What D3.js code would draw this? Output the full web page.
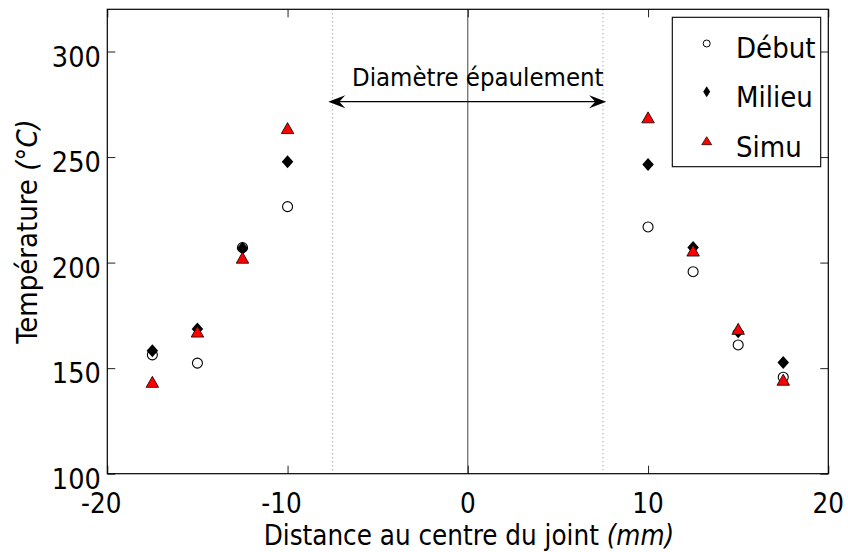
<!DOCTYPE html><html><head><meta charset="utf-8"><script src="https://cdn.jsdelivr.net/npm/d3@7"></script>
<style>body{margin:0;background:#fff}text{font-family:"DejaVu Sans Condensed","DejaVu Sans",sans-serif;fill:#000}</style></head><body><svg width="848" height="552"></svg><script>
const positions=[-17.5,-15,-12.5,-10,10,12.5,15,17.5];
const debut=[156.3,152.4,207.1,226.5,216.9,195.7,161.0,145.7];
const milieu=[158.3,168.5,206.8,247.8,246.5,207.1,167.3,152.7];
const simu=[143.0,166.8,201.8,263.2,268.3,205.2,168.1,144.0];
const xTicks=[-20,-10,0,10,20];
const yTicks=[100,150,200,250,300];
const shoulder=[-7.5,7.5];
const seriesNames=["Début","Milieu","Simu"];

const svg=d3.select("svg");
const L=107.3,R=828.3,T=9.3,B=473.7;
const x=d3.scaleLinear().domain([-20,20]).range([L,R]);
const y=d3.scaleLinear().domain([100,320]).range([B,T]);

// reference lines
svg.selectAll(".dot").data(shoulder).enter().append("line")
 .attr("x1",d=>x(d)).attr("x2",d=>x(d)).attr("y1",T).attr("y2",B)
 .attr("stroke","#888").attr("stroke-width",1).attr("stroke-dasharray","1,3");
svg.append("line").attr("x1",x(0)).attr("x2",x(0)).attr("y1",T).attr("y2",B).attr("stroke","#444").attr("stroke-width",1);

// axes with inward ticks
const tl=8;
const gxb=svg.append("g").attr("transform",`translate(0,${B})`).call(d3.axisBottom(x).tickValues(xTicks).tickSize(-tl).tickFormat(""));
const gxt=svg.append("g").attr("transform",`translate(0,${T})`).call(d3.axisTop(x).tickValues(xTicks).tickSize(-tl).tickFormat(""));
const gyl=svg.append("g").attr("transform",`translate(${L},0)`).call(d3.axisLeft(y).tickValues(yTicks).tickSize(-tl).tickFormat(""));
const gyr=svg.append("g").attr("transform",`translate(${R},0)`).call(d3.axisRight(y).tickValues(yTicks).tickSize(-tl).tickFormat(""));
[gxb,gxt,gyl,gyr].forEach(g=>{g.select(".domain").remove();g.selectAll("line").attr("stroke","#222");});
svg.append("rect").attr("x",L).attr("y",T).attr("width",R-L).attr("height",B-T).attr("fill","none").attr("stroke","#000").attr("stroke-width",1.2);

// tick labels
svg.selectAll(".xl").data(xTicks).enter().append("text")
 .attr("x",d=>x(d)+(d<0?-6:0)).attr("y",B+39).attr("text-anchor","middle").style("font-size","27.5px").text(d=>d);
svg.selectAll(".yl").data(yTicks).enter().append("text")
 .attr("x",L-6.5).attr("y",d=>y(d)+15.3).attr("text-anchor","end").style("font-size","28.5px").text(d=>d);

// axis titles
const xt=svg.append("text").attr("x",469).attr("y",545).attr("text-anchor","middle").style("font-size","27.5px");
xt.append("tspan").text("Distance au centre du joint ");
xt.append("tspan").style("font-style","italic").text("(mm)");
const yt=svg.append("text").attr("transform","translate(37,231.5) rotate(-90)").attr("text-anchor","middle").style("font-size","29px");
yt.append("tspan").text("Température ");
yt.append("tspan").style("font-style","italic").text("(°C)");

// annotation arrow
const ay=101.7, ax1=x(-7.74), ax2=x(7.68);
svg.append("line").attr("x1",ax1+6).attr("x2",ax2-6).attr("y1",ay).attr("y2",ay).attr("stroke","#000").attr("stroke-width",1.3);
function head(tipX,dir){
  const p=d3.path();
  p.moveTo(tipX,ay);
  p.lineTo(tipX+dir*17,ay-6.5);
  p.lineTo(tipX+dir*11,ay);
  p.lineTo(tipX+dir*17,ay+6.5);
  p.closePath();
  svg.append("path").attr("d",p.toString()).attr("fill","#000");
}
head(ax1,1);head(ax2,-1);
svg.append("text").attr("x",352).attr("y",86).style("font-size","25.5px").text("Diamètre épaulement");

// markers
function diamond(w,h){return `M0,${-h/2}L${w/2},0L0,${h/2}L${-w/2},0Z`;}
function tri(w,h){return `M0,${-h*0.6}L${w/2},${h*0.4}L${-w/2},${h*0.4}Z`;}
const g=svg.append("g");
g.selectAll(".c").data(positions).enter().append("circle")
 .attr("cx",d=>x(d)).attr("cy",(d,i)=>y(debut[i])).attr("r",5)
 .attr("fill","none").attr("stroke","#000").attr("stroke-width",1.1);
g.selectAll(".d").data(positions).enter().append("path")
 .attr("transform",(d,i)=>`translate(${x(d)},${y(milieu[i])})`).attr("d",diamond(11.5,13)).attr("fill","#000");
g.selectAll(".t").data(positions).enter().append("path")
 .attr("transform",(d,i)=>`translate(${x(d)},${y(simu[i])})`).attr("d",tri(12.5,11))
 .attr("fill","#ff0000").attr("stroke","#000").attr("stroke-width",0.8);

// legend
const lg=svg.append("g");
lg.append("rect").attr("x",672.3).attr("y",17.3).attr("width",148.4).attr("height",149.4).attr("fill","#fff").attr("stroke","#000").attr("stroke-width",1.1);
const rowY=[43.5,91.7,141.5];
seriesNames.forEach((n,i)=>{
  const cy=rowY[i];
  if(i===0) lg.append("circle").attr("cx",706.7).attr("cy",cy).attr("r",3.5).attr("fill","none").attr("stroke","#000").attr("stroke-width",1);
  if(i===1) lg.append("path").attr("transform",`translate(706.7,${cy})`).attr("d",diamond(7,11)).attr("fill","#000");
  if(i===2) lg.append("path").attr("transform",`translate(706.7,${cy})`).attr("d",tri(10,8)).attr("fill","#ff0000").attr("stroke","#000").attr("stroke-width",0.7);
  lg.append("text").attr("x",736).attr("y",[58.3,107.3,156.7][i]).style("font-size","29px").text(n);
});
</script></body></html>
